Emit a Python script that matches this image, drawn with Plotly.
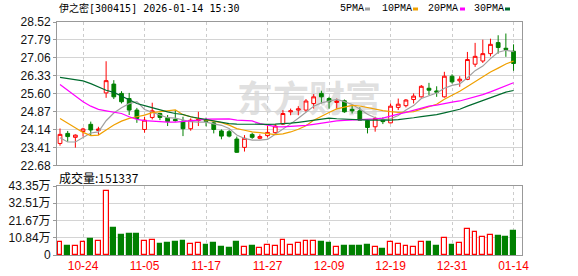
import plotly.graph_objects as go
import pandas as pd

# ---------------- data ----------------
dates = ["10-21", "10-22", "10-23", "10-24", "10-27", "10-28", "10-29", "10-30", "10-31",
         "11-03", "11-04", "11-05", "11-06", "11-07", "11-10", "11-11", "11-12", "11-13",
         "11-14", "11-17", "11-18", "11-19", "11-20", "11-21", "11-24", "11-25", "11-26",
         "11-27", "11-28", "12-01", "12-02", "12-03", "12-04", "12-05", "12-08", "12-09",
         "12-10", "12-11", "12-12", "12-15", "12-16", "12-17", "12-18", "12-19", "12-22",
         "12-23", "12-24", "12-25", "12-26", "12-29", "12-30", "12-31", "01-05", "01-06",
         "01-07", "01-08", "01-09", "01-12", "01-13", "01-14"]

open_ = [23.57, 23.98, 23.82, 24.06, 24.35, 24.10, 25.63, 25.99, 25.61, 25.40,
         24.93, 24.14, 24.63, 24.79, 24.62, 24.55, 24.48, 24.17, 24.50, 24.52,
         24.41, 24.08, 24.05, 23.75, 23.41, 23.94, 23.78, 23.89, 24.01, 24.36,
         24.86, 24.93, 24.93, 25.20, 25.61, 25.40, 25.24, 25.31, 24.96, 24.90,
         24.50, 24.25, 24.52, 24.41, 25.04, 25.11, 25.36, 25.47, 25.82, 25.71,
         25.47, 26.31, 26.12, 26.18, 26.80, 26.93, 27.23, 27.68, 27.45, 27.33]
high = [24.18, 24.08, 23.94, 24.21, 24.46, 24.25, 26.92, 26.15, 25.70, 25.63,
        25.02, 24.66, 25.23, 24.82, 24.73, 24.93, 24.66, 24.59, 24.86, 24.62,
        24.45, 24.14, 24.12, 23.85, 23.91, 24.01, 23.94, 24.28, 24.36, 24.93,
        24.99, 25.09, 25.38, 25.58, 25.72, 25.47, 25.40, 25.36, 25.13, 25.04,
        24.55, 24.66, 24.63, 25.20, 25.40, 25.38, 25.61, 25.95, 26.04, 25.90,
        26.49, 26.39, 26.31, 27.30, 27.67, 27.80, 27.84, 27.98, 28.05, 27.61]
low = [23.48, 23.64, 23.40, 23.85, 23.91, 23.91, 25.43, 25.38, 25.20, 24.73,
       24.41, 24.01, 24.55, 24.52, 24.28, 24.46, 23.87, 24.09, 24.28, 24.27,
       23.98, 23.74, 23.82, 23.19, 23.24, 23.76, 23.74, 23.82, 23.95, 24.32,
       24.72, 24.72, 24.86, 24.99, 25.20, 24.99, 24.99, 24.82, 24.79, 24.52,
       23.98, 24.05, 24.36, 24.39, 24.93, 25.04, 25.20, 25.44, 25.54, 25.47,
       25.44, 26.01, 25.88, 26.15, 26.69, 26.85, 27.12, 27.23, 27.10, 26.53]
close = [23.94, 23.85, 23.91, 24.16, 24.12, 24.16, 26.13, 25.47, 25.27, 24.93,
         24.59, 24.52, 24.90, 24.63, 24.46, 24.50, 24.17, 24.52, 24.55, 24.47,
         24.14, 23.87, 23.87, 23.21, 23.78, 23.82, 23.85, 24.02, 24.28, 24.79,
         24.90, 24.98, 25.30, 25.47, 25.47, 25.27, 25.30, 24.86, 24.90, 24.52,
         24.22, 24.59, 24.46, 25.09, 25.17, 25.34, 25.50, 25.90, 25.74, 25.66,
         26.31, 26.08, 26.19, 26.99, 27.12, 27.23, 27.61, 27.48, 27.40, 26.83]
volume = [83000, 58000, 58000, 83000, 102000, 90000, 402000, 171000, 127000, 133000,
          133000, 90000, 96000, 71000, 77000, 83000, 90000, 71000, 77000, 65000,
          77000, 52000, 44000, 83000, 50000, 58000, 44000, 63000, 58000, 94000,
          65000, 77000, 88000, 88000, 83000, 77000, 50000, 58000, 58000, 58000,
          65000, 50000, 40000, 83000, 71000, 58000, 50000, 83000, 83000, 58000,
          106000, 65000, 77000, 163000, 144000, 113000, 127000, 121000, 115000, 151337]

# moving-average values visible before a full window of closes exists
ma5_head = [23.80, 23.63, 23.63, 23.80]
ma10_head = [24.59, 24.41, 24.22, 24.02, 23.89, 23.91, 24.12, 24.32, 24.48]
ma20_head = [25.97, 25.74, 25.50, 25.27, 25.09, 24.96, 24.90, 24.86, 24.79, 24.66,
             24.55, 24.50, 24.47, 24.46, 24.44, 24.44, 24.46, 24.48, 24.52]
ma30_head = [26.26, 26.22, 26.18, 26.12, 26.01, 25.88, 25.74, 25.65, 25.50, 25.34,
             25.20, 25.11, 25.02, 24.93, 24.86, 24.79, 24.75, 24.66, 24.60, 24.55,
             24.47, 24.42, 24.38, 24.36, 24.35, 24.35, 24.35, 24.35, 24.36]

price_ticks = [22.68, 23.41, 24.14, 24.87, 25.60, 26.33, 27.06, 27.79, 28.52]
vol_tickvals = [0, 108375, 216750, 325125, 433500]
vol_ticktext = ["0", "10.84万", "21.67万", "32.51万", "43.35万"]
date_ticks = ["10-24", "11-05", "11-17", "11-27", "12-09", "12-19", "12-31", "01-14"]

title_text = "伊之密[300415] 2026-01-14 15:30"
ma_names = ["5PMA", "10PMA", "20PMA", "30PMA"]
ma_colors = ["#a0a0a0", "#f0a000", "#ff00ff", "#006b2e"]

# ---------------- figure ----------------
W, H = 578, 276
L, R, T, B = 57, 56, 22, 21
PW, PH = W - L - R, H - T - B


def fx(px):
    return (px - L) / PW


def fy(py):
    return (H - B - py) / PH


idx = list(range(len(dates)))
tickvals = [dates.index(d) for d in date_ticks]
cs = pd.Series(close)


def ma(n, head):
    full = cs.rolling(n).mean().round(3).tolist()
    return list(head) + full[len(head):]


mas = [ma(5, ma5_head), ma(10, ma10_head), ma(20, ma20_head), ma(30, ma30_head)]

RED, GREEN = "#ff0000", "#008000"
fig = go.Figure()
fig.add_trace(go.Candlestick(
    x=idx, open=open_, high=high, low=low, close=close,
    increasing=dict(line=dict(color=RED, width=1), fillcolor="#ffffff"),
    decreasing=dict(line=dict(color=GREEN, width=1), fillcolor=GREEN),
    whiskerwidth=0, hoverinfo="skip", showlegend=False,
    xaxis="x", yaxis="y"))
for name, vals, col in zip(ma_names, mas, ma_colors):
    fig.add_trace(go.Scatter(x=idx, y=vals, mode="lines", name=name,
                             line=dict(color=col, width=1.2), hoverinfo="skip",
                             showlegend=False, xaxis="x", yaxis="y"))

up = [c >= o for o, c in zip(open_, close)]
fig.add_trace(go.Bar(
    x=idx, y=volume, width=0.62,
    marker=dict(color=["#ffffff" if u else GREEN for u in up],
                line=dict(color=[RED if u else GREEN for u in up], width=1.2)),
    hoverinfo="skip", showlegend=False, xaxis="x2", yaxis="y2"))

xr = [-0.39, 60.1]
common_x = dict(range=xr, tickvals=tickvals, showgrid=True, gridcolor="#cccccc",
                griddash="3px,3px", gridwidth=1, showline=True, mirror=True,
                linecolor="#999999", linewidth=1, zeroline=False, fixedrange=True,
                automargin=False)
tickfont = dict(family="Liberation Sans, Arial, Noto Sans CJK SC", size=12, color="#111111")

fig.update_layout(
    width=W, height=H, margin=dict(l=L, r=R, t=T, b=B, autoexpand=False),
    paper_bgcolor="#ffffff", plot_bgcolor="#ffffff",
    showlegend=False, bargap=0,
    xaxis=dict(**common_x, anchor="y", showticklabels=False, ticks="",
               rangeslider=dict(visible=False), domain=[0, 1]),
    xaxis2=dict(**common_x, anchor="y2", showticklabels=True, ticks="",
                ticktext=date_ticks,
                tickfont=dict(family="Liberation Sans, Arial", size=12, color="#ff0000"),
                domain=[0, 1]),
    yaxis=dict(domain=[fy(165.3), 1], range=[price_ticks[0], price_ticks[-1]],
               tickvals=price_ticks, ticktext=[f"{v:.2f}" for v in price_ticks],
               showgrid=True, gridcolor="#d4d4d4", gridwidth=1, zeroline=False,
               showline=True, mirror=True, linecolor="#999999", linewidth=1,
               ticks="outside", ticklen=3, tickcolor="#999999", automargin=False,
               tickfont=tickfont, fixedrange=True),
    yaxis2=dict(domain=[0, fy(186)], range=[0, vol_tickvals[-1]],
                tickvals=vol_tickvals, ticktext=vol_ticktext,
                showgrid=True, gridcolor="#d4d4d4", gridwidth=1, zeroline=False,
                showline=True, mirror=True, linecolor="#999999", linewidth=1,
                ticks="outside", ticklen=3, tickcolor="#999999", automargin=False,
                tickfont=tickfont, fixedrange=True),
)

annotations = [
    dict(text=title_text, x=fx(57), y=fy(8), xref="paper", yref="paper",
         xanchor="left", yanchor="middle", showarrow=False,
         font=dict(family="DejaVu Sans Mono, Noto Sans CJK SC", size=10, color="#000000")),
    dict(text=f"成交量:{volume[-1]}", x=fx(57), y=fy(177), xref="paper", yref="paper",
         xanchor="left", yanchor="middle", showarrow=False,
         font=dict(family="Noto Sans CJK SC", size=12, color="#000000")),
]
shapes = [
    dict(type="rect", xref="paper", yref="paper", layer="below",
         x0=fx(238), x1=fx(380), y0=fy(120), y1=fy(83), line=dict(width=0),
         fillcolor="rgba(0,0,0,0)",
         label=dict(text="东方财富", textposition="middle center",
                    font=dict(family="Noto Sans CJK SC", size=36, color="#e0e0e0",
                              weight="bold"))),
]
legend_pos = [(338, 365), (380, 413), (426, 460), (472, 505)]
for name, col, (tx, sx) in zip(ma_names, ma_colors, legend_pos):
    annotations.append(dict(text=name, x=fx(tx), y=fy(8.5), xref="paper", yref="paper",
                            xanchor="left", yanchor="middle", showarrow=False,
                            font=dict(family="Liberation Mono", size=10, color="#000000")))
    shapes.append(dict(type="rect", xref="paper", yref="paper",
                       x0=fx(sx), x1=fx(sx + 5), y0=fy(10.5), y1=fy(7.5),
                       line=dict(width=0), fillcolor=col))

fig.update_layout(annotations=annotations, shapes=shapes)
fig.write_html("out.html")
